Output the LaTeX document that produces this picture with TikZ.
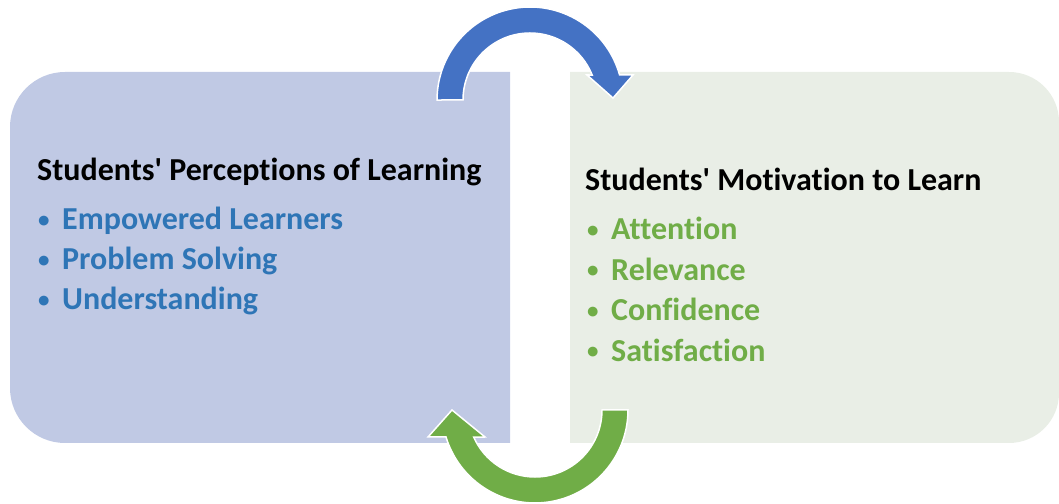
\documentclass[tikz,border=0pt]{standalone}
\usepackage{fontspec}
\setmainfont{Carlito}[Ligatures=NoCommon]
\usepackage{tikz}
\usetikzlibrary{
  arrows.meta,
  positioning,
  calc
}
\usepackage{xcolor}
\definecolor{perceptFill}{RGB}{192,201,228}
\definecolor{motivFill}{RGB}{233,238,230}
\definecolor{loopBlue}{RGB}{68,114,196}
\definecolor{loopGreen}{RGB}{112,173,71}
\definecolor{itemBlue}{RGB}{46,117,182}
\newcommand{\bulletItem}[1]{\makebox[24pt][l]{%
  \raisebox{2.5pt}{\fontsize{23}{23}\selectfont\textbullet}}#1}
\tikzset{
  heading/.style={
    anchor=base west,
    inner sep=0pt,
    font=\fontsize{32}{38}\selectfont\bfseries,
    text=black
  }
}
\tikzset{
  perceptItem/.style={heading, text=itemBlue},
  motivItem/.style={heading, text=loopGreen}
}
\tikzset{
  loopArrow/.style={
    draw=white,
    line width=1.5pt,
    line join=miter
  }
}

\begin{document}
\begin{tikzpicture}[x=1pt, y=1pt]
    \useasboundingbox (0,0) rectangle (1059,503);

    % the two panels
    \fill[perceptFill] (510,431) -- (65,431)
      arc[start angle=90, end angle=180, radius=55pt] -- (10,115)
      arc[start angle=180, end angle=270, radius=55pt] -- (510,60) -- cycle;
    \fill[motivFill] (570,431) -- (1009,431)
      arc[start angle=90, end angle=0, radius=50pt] -- (1059,110)
      arc[start angle=0, end angle=-90, radius=50pt] -- (570,60) -- cycle;

    \node[heading] (lhead) at (37,322)
      {Students\textquotesingle{} Perceptions of Learning};
    \foreach \n/\txt in {1/Empowered Learners, 2/Problem Solving, 3/Understanding}{
      \node[perceptItem] (litem\n) at (38,313-40*\n) {\bulletItem{\txt}};
    }

    \node[heading] (rhead) at (585,312)
      {Students\textquotesingle{} Motivation to Learn};
    \foreach \n/\txt in {1/Attention, 2/Relevance, 3/Confidence, 4/Satisfaction}{
      \node[motivItem] (ritem\n) at (587,303.5-40.5*\n) {\bulletItem{\txt}};
    }

    % curved arrows between the panels
    \filldraw[loopArrow, fill=loopBlue] (463,403)
      arc[start angle=180, end angle=21.9, radius=67pt]
      -- (587,428) -- (613,405) -- (633,428) -- (619.6,428)
      arc[start angle=15.6, end angle=180, radius=93pt] -- cycle;
    \filldraw[loopArrow, fill=loopGreen] (602,93)
      arc[start angle=0, end angle=-156.2, radius=67pt]
      -- (485,66) -- (452,93) -- (428,66) -- (446,66)
      arc[start angle=-163.1, end angle=0, radius=93pt] -- cycle;
\end{tikzpicture}
\end{document}
